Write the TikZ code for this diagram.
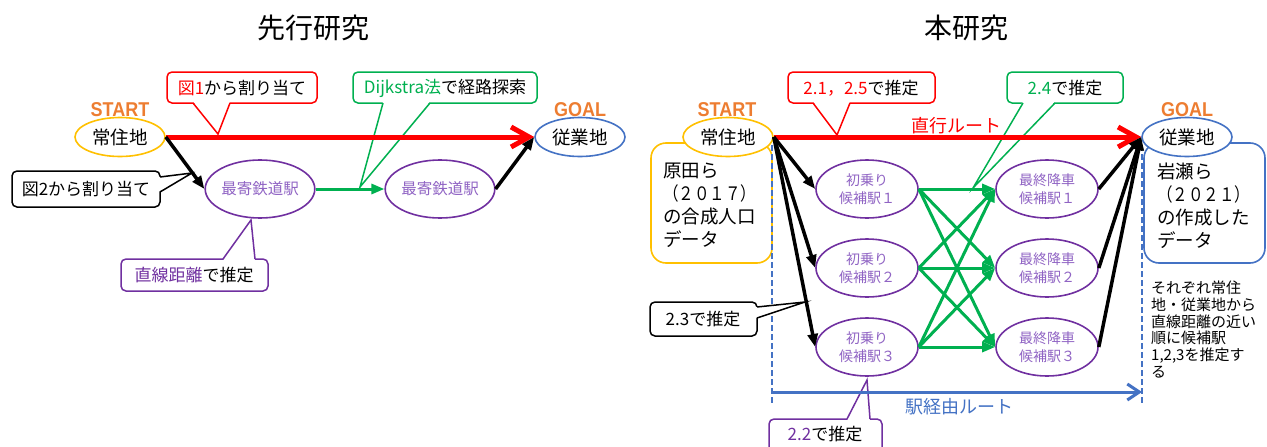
\documentclass[tikz,border=0pt]{standalone}
\usepackage{fontspec}
\setmainfont{Noto Sans CJK JP}
\newfontfamily\tagfont{Liberation Sans}
\usetikzlibrary{arrows.meta,shapes.geometric}
\definecolor{cOrange}{HTML}{ED7D31}
\definecolor{cYellow}{HTML}{FFC000}
\definecolor{cBlue}{HTML}{4472C4}
\definecolor{cPurple}{HTML}{7030A0}
\definecolor{cText}{HTML}{9064C4}
\definecolor{cGreen}{HTML}{00B050}
\definecolor{cRed}{HTML}{FF0000}
\newcommand{\fs}[2]{\fontsize{#1}{#2}\selectfont}
\begin{document}
\begin{tikzpicture}[x=1pt,y=-1pt,
 el/.style={ellipse,draw,line width=1.6pt,fill=white,inner sep=0pt,align=center},
 sta/.style={el,minimum width=102pt,minimum height=58pt,draw=cPurple,text=cText,font=\fs{14}{18.5}},
 home/.style={el,minimum width=90pt,minimum height=39pt,font=\fs{18.5}{20}},
 tagtxt/.style={font=\tagfont\bfseries\fs{20}{20},text=cOrange,inner sep=0pt},
 ctext/.style={inner sep=0pt,font=\fs{17}{20}},
 cbox/.style={line width=1.5pt,fill=white,rounded corners=5pt},
 cptr/.style={line width=1.5pt,line join=miter},
 blk/.style={line width=3.5pt,-{Triangle[length=13pt,width=10pt]}},
 grn/.style={line width=3pt,draw=cGreen,-{Triangle[length=13pt,width=10pt]}},
 redarr/.style={line width=5pt,draw=cRed,-{Straight Barb[length=18pt,width=20pt]}},
 bluearr/.style={line width=3pt,draw=cBlue,-{Straight Barb[length=12pt,width=16pt]}},
 dashline/.style={line width=1.5pt,draw=cBlue,dash pattern=on 6pt off 3pt},
 databox/.style={line width=1.6pt,rounded corners=15pt,fill=white},
 datatxt/.style={inner sep=0pt,anchor=north west,align=left,font=\fs{18.5}{23}},
 ttl/.style={font=\fs{28}{30}}
]
\clip (0,0) rectangle (1267,447);
% titles
\node[ttl] (ttlL) at (313,28) {先行研究};
\node[ttl] (ttlR) at (966,28) {本研究};

% data boxes
\draw[databox,draw=cYellow] (651,143) rectangle (772,263);
\node[datatxt] (dataL) at (663,163) {原田ら\\\scalebox{0.84}[1]{（２０１７）}\\の合成人口\\データ};
\draw[databox,draw=cBlue] (1144,143) rectangle (1265,263);
\node[datatxt] (dataR) at (1157,163) {岩瀬ら\\\scalebox{0.84}[1]{（２０２１）}\\の作成した\\データ};

% dashed lines
\coordinate (dl1) at (772,145); \coordinate (dl2) at (772,404);
\coordinate (dr1) at (1142,145); \coordinate (dr2) at (1142,404);
\draw[dashline] (dl1) -- (dl2);
\draw[dashline] (dr1) -- (dr2);

% note
\node[inner sep=0pt,anchor=north west,align=left,font=\fs{15}{16.7}] (note) at (1151,281)
 {それぞれ常住\\地・従業地から\\直線距離の近い\\順に候補駅\\1,2,3を推定す\\る};

% ---- callouts ----
% red left
\coordinate (p1) at (218,134);
\draw[cbox,draw=cRed] (167,72) rectangle (317,103);
\fill[white] (193,101.5) -- (p1) -- (230,101.5) -- cycle;
\draw[cptr,draw=cRed] (193,103) -- (p1) -- (230,103);
\node[ctext] (c1) at (242,88) {\textcolor{cRed}{図1}から割り当て};
% green left
\coordinate (p2) at (360,187);
\draw[cbox,draw=cGreen] (353,72) rectangle (537,103);
\fill[white] (383,101.5) -- (p2) -- (430,101.5) -- cycle;
\draw[cptr,draw=cGreen] (383,103) -- (p2) -- (430,103);
\node[ctext] (c2) at (445,88) {\textcolor{cGreen}{Dijkstra法}で経路探索};
% black left
\coordinate (p3) at (192,173);
\draw[cbox,draw=black] (12,171) rectangle (160,207);
\fill[white] (158.5,177) -- (p3) -- (158.5,192) -- cycle;
\draw[cptr,draw=black] (160,177) -- (p3) -- (160,192);
\node[ctext] (c3) at (86,189) {図2から割り当て};
% purple left
\coordinate (p4) at (251,220);
\draw[cbox,draw=cPurple] (121,259) rectangle (268,291);
\fill[white] (223,260.5) -- (p4) -- (255,260.5) -- cycle;
\draw[cptr,draw=cPurple] (223,259) -- (p4) -- (255,259);
\node[ctext] (c4) at (194,275) {\textcolor{cPurple}{直線距離}で推定};
% red right
\coordinate (p5) at (837,135);
\draw[cbox,draw=cRed] (788,72) rectangle (935,103);
\fill[white] (813,101.5) -- (p5) -- (850,101.5) -- cycle;
\draw[cptr,draw=cRed] (813,103) -- (p5) -- (850,103);
\node[ctext] (c5) at (861,88) {\textcolor{cRed}{2.1，2.5}で推定};
% green right
\coordinate (p6) at (973,188);
\draw[cbox,draw=cGreen] (1007,72) rectangle (1123,103);
\fill[white] (1023,101.5) -- (p6) -- (1055,101.5) -- cycle;
\draw[cptr,draw=cGreen] (1023,103) -- (p6) -- (1055,103);
\node[ctext] (c6) at (1065,88) {\textcolor{cGreen}{2.4}で推定};
% black right
\coordinate (p7) at (805,302);
\draw[cbox,draw=black] (650,302) rectangle (757,336);
\fill[white] (755.5,307) -- (p7) -- (755.5,318) -- cycle;
\draw[cptr,draw=black] (757,307) -- (p7) -- (757,318);
\node[ctext] (c7) at (703,319) {2.3で推定};
% purple right
\coordinate (p8) at (867,380);
\draw[cbox,draw=cPurple] (769,419) rectangle (882,465);
\fill[white] (847,420.5) -- (p8) -- (870,420.5) -- cycle;
\draw[cptr,draw=cPurple] (847,419) -- (p8) -- (870,419);
\node[ctext] (c8) at (825,434) {\textcolor{cPurple}{2.2}で推定};

% ---- ellipses ----
\node[home,draw=cYellow] (ls) at (120,137) {常住地};
\node[home,draw=cBlue] (lg) at (580,137) {従業地};
\node[sta,font=\fs{15.5}{18}] (lm1) at (260,189) {最寄鉄道駅};
\node[sta,font=\fs{15.5}{18}] (lm2) at (440,189) {最寄鉄道駅};
\node[home,draw=cYellow] (rs) at (728,137) {常住地};
\node[home,draw=cBlue] (rg) at (1187,137) {従業地};
\node[sta] (fs1) at (867,189) {初乗り\\候補駅１};
\node[sta] (fs2) at (867,268) {初乗り\\候補駅２};
\node[sta] (fs3) at (867,347) {初乗り\\候補駅３};
\node[sta] (fe1) at (1047,189) {最終降車\\候補駅１};
\node[sta] (fe2) at (1047,268) {最終降車\\候補駅２};
\node[sta] (fe3) at (1047,347) {最終降車\\候補駅３};

% tags
\node[tagtxt] (st1) at (120,110) {\scalebox{0.9}[1]{START}};
\node[tagtxt] (go1) at (580,110) {\scalebox{0.9}[1]{GOAL}};
\node[tagtxt] (st2) at (727,110) {\scalebox{0.9}[1]{START}};
\node[tagtxt] (go2) at (1187,110) {\scalebox{0.9}[1]{GOAL}};

% ---- arrows left ----
\draw[redarr] (ls.east) -- (lg.west);
\draw[blk] (ls.east) -- (lm1.west);
\draw[grn] (lm1.east) -- (lm2.west);
\draw[blk] (lm2.east) -- (lg.west);

% ---- arrows right ----
\draw[redarr] (rs.east) -- (rg.west);
\node[font=\fs{18}{20},text=cRed,inner sep=0pt] (lab1) at (956,126) {直行ルート};
\foreach \i in {1,2,3}{
  \draw[blk] (rs.east) -- (fs\i.west);
  \draw[blk] (fe\i.east) -- (rg.west);
  \foreach \j in {1,2,3}{
    \draw[grn] (fs\i.east) -- (fe\j.west);
  }
}
\coordinate (bl) at (772,392); \coordinate (br) at (1142,392);
\draw[bluearr] (bl) -- (br);
\node[font=\fs{18}{20},text=cBlue,inner sep=0pt] (lab2) at (959,407) {駅経由ルート};
\end{tikzpicture}
\end{document}
